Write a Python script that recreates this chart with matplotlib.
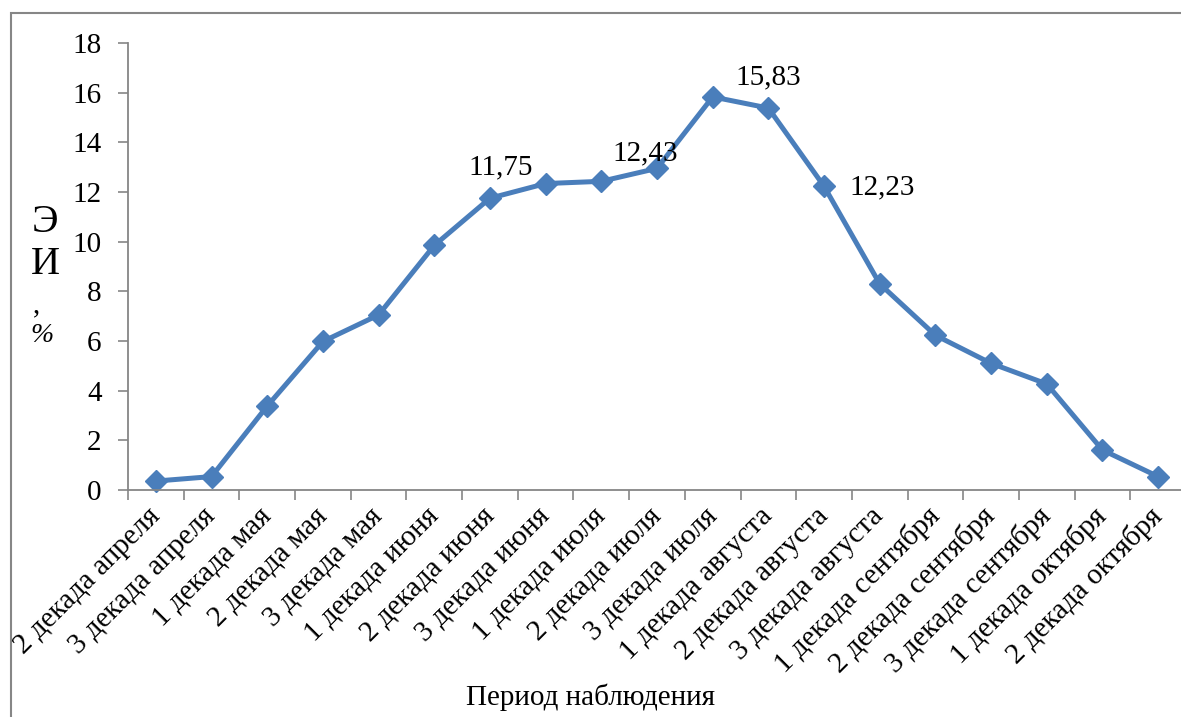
import numpy as np
import matplotlib
matplotlib.use('Agg')
import matplotlib.pyplot as plt
from matplotlib.patches import Rectangle
plt.rcParams.update({'font.family': ['Liberation Serif', 'DejaVu Serif'], 'font.size': 21})

# periods of observation and index values, %
periods = ['2 декада апреля', '3 декада апреля', '1 декада мая', '2 декада мая',
           '3 декада мая', '1 декада июня', '2 декада июня', '3 декада июня',
           '1 декада июля', '2 декада июля', '3 декада июля', '1 декада августа',
           '2 декада августа', '3 декада августа', '1 декада сентября',
           '2 декада сентября', '3 декада сентября', '1 декада октября',
           '2 декада октября']
values = [0.36, 0.54, 3.38, 5.98, 7.05, 9.85, 11.75, 12.34, 12.43, 12.95,
          15.83, 15.38, 12.23, 8.3, 6.23, 5.1, 4.27, 1.61, 0.54]
# annotated points: index, text, position of text
notes_idx = [6, 8, 10, 12]
notes_txt = ['11,75', '12,43', '15,83', '12,23']
notes_pos = [(6.2, 13.0), (8.78, 13.57), (11.0, 16.63), (13.04, 12.2)]

col = '#4a7ebb'
gray = '#868686'

fig = plt.figure(figsize=(11.81, 7.17), dpi=100)
ax = fig.add_axes([128/1181, 1-490/717, (1186-128)/1181, (490-43)/717])

x = np.arange(len(periods))
ax.plot(x, values, color=col, lw=3.6, marker='D', ms=11, mec=col, mfc=col, clip_on=False)

for i, t, p in zip(notes_idx, notes_txt, notes_pos):
    ax.text(p[0], p[1], t, ha='center', va='center')

ax.set_xlim(-0.5, len(periods)-0.5)
ax.set_ylim(0, 18)
ax.set_yticks(np.arange(0, 19, 2))
ax.set_xticks(x)
ax.set_xticklabels(periods, rotation=45, ha='right', va='center', rotation_mode='anchor')
ax.set_xticks(np.arange(-0.5, len(periods), 1), minor=True)
ax.tick_params(axis='x', which='major', length=0, pad=16)
ax.tick_params(axis='x', which='minor', length=7, color=gray, width=1.2)
ax.tick_params(axis='y', length=7, color=gray, width=1.2, pad=12)

for s in ['top', 'right']:
    ax.spines[s].set_visible(False)
for s in ['left', 'bottom']:
    ax.spines[s].set_color(gray)
    ax.spines[s].set_linewidth(1.3)

fig.text(590/1181, 1-697/717, 'Период наблюдения', ha='center', va='center')

# stacked y label
fig.text(45/1181, 1-222/717, 'Э', ha='center', va='center', fontsize=29)
fig.text(45/1181, 1-264/717, 'И', ha='center', va='center', fontsize=29)
fig.text(37/1181, 1-305/717, ',', ha='center', va='center', fontsize=21)
fig.text(42/1181, 1-335/717, '%', ha='center', va='center', fontsize=20, style='italic')

fig.patches.append(Rectangle((11/1181, -0.1), 1.2, 1-13/717+0.1, transform=fig.transFigure,
                             fill=False, edgecolor=gray, lw=1.5))

fig.savefig('out.png', dpi=100)
